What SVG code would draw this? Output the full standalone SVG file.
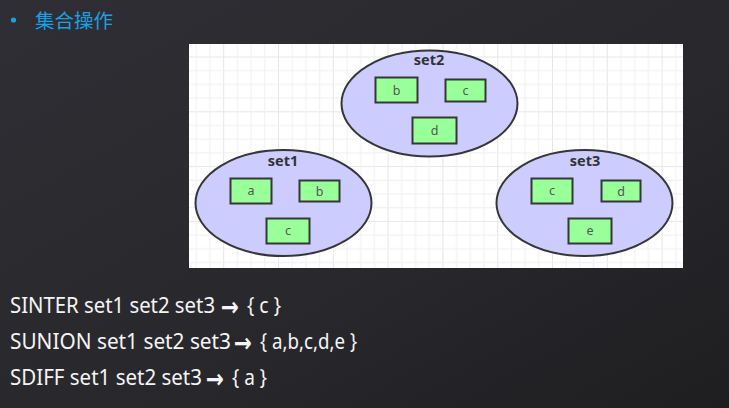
<svg xmlns="http://www.w3.org/2000/svg" width="729" height="408" viewBox="0 0 729 408">
<defs>
<linearGradient id="bg" x1="0" y1="0" x2="1" y2="1">
<stop offset="0" stop-color="#2e2e34"/>
<stop offset="0.6" stop-color="#28282c"/>
<stop offset="1" stop-color="#1e1e21"/>
</linearGradient>
<pattern id="grid" patternUnits="userSpaceOnUse" x="223.2" y="56.5" width="54.8" height="54.8">
<rect x="0" y="0" width="1" height="54.8" fill="#e6e6e6"/>
<rect x="0" y="0" width="54.8" height="1" fill="#e6e6e6"/>
<rect x="13.7" y="0" width="1" height="54.8" fill="#f0f0f0"/>
<rect x="27.4" y="0" width="1" height="54.8" fill="#f0f0f0"/>
<rect x="41.1" y="0" width="1" height="54.8" fill="#f0f0f0"/>
<rect x="0" y="13.7" width="54.8" height="1" fill="#f0f0f0"/>
<rect x="0" y="27.4" width="54.8" height="1" fill="#f0f0f0"/>
<rect x="0" y="41.1" width="54.8" height="1" fill="#f0f0f0"/>
</pattern>
</defs>
<style>
.set{fill:#ccccff;stroke:#363636;stroke-width:2}
.box{fill:#99ff99;stroke:#363636;stroke-width:2}
.lbl{font-family:"Noto Sans","DejaVu Sans",sans-serif;font-weight:bold;font-size:14.5px;fill:#333;text-anchor:middle}
.item{font-family:"Noto Sans","DejaVu Sans",sans-serif;font-size:12.5px;fill:#555;text-anchor:middle}
.cmd{font-family:"Noto Sans","DejaVu Sans",sans-serif;font-size:21px;fill:#f5f5f5}
.arr{font-family:"DejaVu Sans",sans-serif;font-size:26px;font-weight:bold;fill:#f5f5f5}
</style>
<rect width="729" height="408" fill="url(#bg)"/>
<circle cx="13.5" cy="20" r="2.6" fill="#1ba1e2"/>
<text x="35" y="28" font-family="'Noto Sans CJK SC','Noto Sans',sans-serif" font-size="19.5" fill="#1ba1e2">集合操作</text>
<rect x="189" y="44" width="494" height="224" fill="#ffffff"/>
<rect x="189" y="44" width="494" height="224" fill="url(#grid)"/>
<g id="set2">
<ellipse class="set" cx="429.5" cy="103.5" rx="88" ry="53"/>
<text class="lbl" x="429" y="65">set2</text>
<rect class="box" x="375.5" y="77.5" width="42" height="25"/>
<text class="item" x="396.5" y="94.5">b</text>
<rect class="box" x="445.5" y="79.5" width="40" height="22"/>
<text class="item" x="465.5" y="95">c</text>
<rect class="box" x="412.5" y="117.5" width="44" height="26"/>
<text class="item" x="434.5" y="135">d</text>
</g>
<g id="set1">
<ellipse class="set" cx="283.5" cy="203" rx="88" ry="53"/>
<text class="lbl" x="283" y="166">set1</text>
<rect class="box" x="230.5" y="178.5" width="41" height="25"/>
<text class="item" x="251" y="195">a</text>
<rect class="box" x="299.5" y="180.5" width="40" height="21"/>
<text class="item" x="319.5" y="195.5">b</text>
<rect class="box" x="266.5" y="218.5" width="43" height="25"/>
<text class="item" x="288" y="235">c</text>
</g>
<g id="set3">
<ellipse class="set" cx="584.5" cy="203" rx="88" ry="53"/>
<text class="lbl" x="585" y="166">set3</text>
<rect class="box" x="531.5" y="178.5" width="41" height="25"/>
<text class="item" x="552" y="195">c</text>
<rect class="box" x="601.5" y="180.5" width="39" height="21"/>
<text class="item" x="621" y="195.5">d</text>
<rect class="box" x="568.5" y="218.5" width="43" height="25"/>
<text class="item" x="590" y="235">e</text>
</g>
<g id="connectors"/>
<text class="cmd" x="10" y="313" textLength="205" lengthAdjust="spacingAndGlyphs">SINTER set1 set2 set3</text>
<text class="arr" x="221" y="316" textLength="18" lengthAdjust="spacingAndGlyphs">→</text>
<text class="cmd" x="247" y="313" textLength="34" lengthAdjust="spacingAndGlyphs">{ c }</text>
<text class="cmd" x="10" y="349" textLength="221" lengthAdjust="spacingAndGlyphs">SUNION set1 set2 set3</text>
<text class="arr" x="234" y="352" textLength="18" lengthAdjust="spacingAndGlyphs">→</text>
<text class="cmd" x="260" y="349" textLength="97" lengthAdjust="spacingAndGlyphs">{ a,b,c,d,e }</text>
<text class="cmd" x="10" y="385" textLength="192" lengthAdjust="spacingAndGlyphs">SDIFF set1 set2 set3</text>
<text class="arr" x="206" y="388" textLength="18" lengthAdjust="spacingAndGlyphs">→</text>
<text class="cmd" x="232" y="385" textLength="35" lengthAdjust="spacingAndGlyphs">{ a }</text>
</svg>
